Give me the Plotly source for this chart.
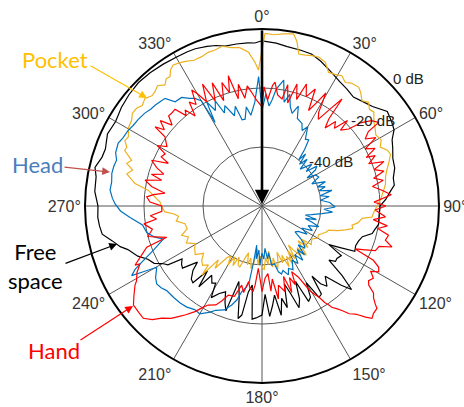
import plotly.graph_objects as go

W, H = 464, 407

# ---- data: (angle in degrees, level in dB) ----
free_space = [(0,-4.0),(5,-4.6),(9,-5.3),(14,-5.6),(18,-5.8),(22,-7.0),(27,-8.8),(32,-10.3),(36,-11.0),(40,-11.8),
 (44,-10.8),(48,-9.6),(53,-6.8),(57,-7.6),(60,-8.3),(63,-10.5),(66,-11.5),(70,-12.8),(74,-13.2),(78,-14.5),
 (81,-14.6),(84,-16.5),(87,-18.0),(90,-20.0),(95,-20.2),(99,-20.0),(102,-21.0),(104,-21.5),(107,-24.4),(110,-25.2),
 (113,-25.5),(116,-25.0),(118,-30.0),(120,-33.8),(122,-28.3),(125,-29.0),(127,-28.8),(129,-30.8),(131,-24.0),(133,-18.5),
 (135,-22.0),(138,-28.0),(141,-25.0),(143,-27.0),(144.5,-30.8),(146,-24.0),(148,-23.5),(150,-30.0),(152,-25.0),(154,-24.0),
 (156,-32.0),(158,-26.0),(160,-23.3),(162,-29.0),(164,-32.5),(166,-24.5),(168,-28.0),(170,-22.4),(172,-29.5),(174,-26.0),
 (176,-22.5),(178,-30.0),(180,-23.0),(183,-22.0),(185,-21.5),(187,-33.0),(189,-30.5),(190.5,-22.4),(192,-21.0),(194,-28.0),
 (197,-33.2),(199,-22.4),(201,-25.0),(203,-28.4),(206,-27.0),(209,-24.5),(211,-29.5),(213,-28.8),(216,-31.0),(218,-25.2),
 (220,-31.2),(222,-25.0),(224,-25.5),(227,-28.0),(229,-31.0),(232,-25.8),(234,-26.3),(236.5,-27.5),(238,-22.4),(240,-21.0),
 (242,-18.6),(245,-17.3),(248,-14.6),(252,-12.2),(254,-10.0),(257,-7.8),(260,-5.0),(263,-4.5),(266,-4.2),(270,-4.4),
 (275,-3.1),(280,-2.9),(283,-1.9),(287,-3.3),(290,-3.5),(295,-2.2),(300,-2.7),(305,-1.8),(310,-1.2),(315,-0.8),
 (320,-1.0),(325,-1.4),(330,-1.8),(334,-1.9),(337,-2.1),(341,-2.8),(344,-3.4),(347,-4.4),(351,-4.4),(355,-4.5),
 (357.5,-4.7),(360,-4.0)]

pocket = [(1,-1.5),(4,-1.8),(7,-1.2),(10.4,-0.7),(12,-3.0),(13.6,-7.0),(16,-6.8),(18.4,-6.3),(21,-6.0),(23.8,-6.8),
 (26.5,-9.4),(29,-9.0),(31.5,-8.2),(34,-9.5),(36,-8.5),(39.2,-8.1),(41,-9.0),(43.5,-10.8),(45.8,-9.6),(48,-11.0),
 (50,-10.5),(53,-12.5),(55.8,-13.6),(58,-14.5),(61,-13.8),(63.5,-15.2),(66,-13.5),(68,-13.0),(71,-14.5),(74,-16.0),
 (76.8,-17.0),(80,-17.5),(82.6,-18.4),(86,-19.5),(90,-21.0),(93,-22.0),(95.7,-22.5),(97,-25.8),(100,-27.0),(102,-28.8),
 (104,-28.3),(106,-30.6),(108,-33.0),(110,-36.0),(112,-36.5),(114.8,-37.6),(117,-38.5),(120,-38.2),(123.4,-39.7),(126,-39.3),
 (128,-38.8),(130,-42.5),(132,-39.0),(134,-43.0),(136,-40.5),(138,-37.5),(140,-41.5),(142,-38.5),(144,-41.0),(146,-44.0),
 (148,-39.0),(150,-42.5),(152,-38.0),(154,-41.0),(156,-37.5),(158,-42.0),(160,-39.5),(162,-43.5),(164,-40.3),(166,-38.0),
 (168,-42.0),(170,-39.0),(172,-44.5),(174,-40.0),(176,-42.5),(178,-38.5),(180,-39.0),(182,-43.0),(184,-40.0),(186,-45.5),
 (188,-41.0),(190,-38.5),(192,-42.0),(194,-39.5),(196,-43.5),(198,-41.5),(200,-38.0),(202,-38.4),(204,-41.0),(206,-37.5),
 (208,-40.5),(210,-37.0),(212,-40.0),(214,-39.0),(217,-33.6),(219,-36.5),(221,-29.0),(222.3,-33.0),(225,-31.5),(228,-32.5),
 (231,-34.5),(234,-32.0),(237.7,-33.0),(240.6,-34.0),(244,-31.5),(247.2,-32.9),(250,-31.0),(253,-33.5),(257,-33.2),(260,-30.5),
 (263,-31.5),(265,-29.8),(266.5,-27.0),(269.6,-26.0),(272,-25.5),(274.8,-23.6),(277.9,-21.0),(280,-16.3),(283.4,-12.9),(285.5,-14.5),
 (287.5,-11.9),(289.3,-13.2),(292,-9.8),(293.6,-10.0),(295.5,-8.5),(297.4,-9.0),(300.5,-7.5),(303.4,-7.1),(305.5,-6.0),(307.9,-6.1),
 (310,-7.0),(312.6,-6.1),(315,-7.2),(316.9,-6.9),(319,-6.0),(321.3,-7.4),(323,-6.0),(324.6,-6.2),(326,-4.5),(327.8,-3.5),
 (330,-4.0),(332,-4.5),(335,-5.5),(338,-5.4),(340.7,-4.8),(343,-4.8),(346,-4.2),(349,-5.3),(352,-5.8),(355,-7.7),
 (357.2,-11.2),(358.5,-13.9),(361,-1.5)]

head = [(0,-27.5),(2,-22),(4,-26),(5.4,-23.9),(7,-20),(9.8,-16.7),(12,-24),(14,-21),(15.9,-25),(18,-27),
 (20,-24),(22,-28),(25.8,-28.9),(28,-31),(30,-29),(33,-33),(35.3,-32.6),(37,-36),(38.6,-40),(40,-37),
 (42,-41),(44,-38),(46,-42),(48,-40.2),(50,-38),(52,-41),(54,-37),(56,-38.2),(58,-42),(60,-39),
 (63,-38.4),(66,-41.5),(69,-37),(71,-40),(73,-37.6),(75,-40),(77.4,-35.7),(80,-40),(82,-37),(84.4,-40.1),
 (87,-37),(90.8,-35.2),(93,-39),(95,-36),(97.3,-39.5),(100,-43),(101.8,-45),(104,-41),(106,-44.7),(108,-42),
 (110,-39.5),(113,-43),(116,-41),(119,-44.6),(122,-42),(125,-45),(128,-45.8),(130,-43),(132,-41),(134.5,-39.6),
 (137,-42),(139,-38),(141,-41),(143,-37),(146,-40),(148,-37),(151,-39),(154,-36),(157,-37),(159,-35),
 (162,-37),(164,-36),(166,-37),(168,-40),(170.7,-39.7),(172,-44),(174,-42),(176,-45.6),(178,-42),(180,-44),
 (182,-40),(184,-45),(186,-42),(187.7,-46.6),(188.5,-41),(189.5,-34),(191,-32),(193.3,-30.2),(195,-27),(197,-24.9),
 (200,-22.5),(204,-21.3),(206,-20),(210,-17.8),(213,-18.1),(216.6,-17.3),(220,-17),(224,-16.9),(228.4,-16.8),(231,-16),
 (233.5,-15.6),(236,-16.5),(239.8,-18.7),(241,-14),(241.9,-9.9),(243.5,-12),(245.3,-15.7),(248,-20.5),(251.4,-24.7),(254,-22),
 (257,-19.9),(261,-19),(265,-15.1),(268,-12),(270.8,-10.2),(273,-9.2),(276,-8.2),(279,-8.4),(282.3,-7.9),(285,-8.0),
 (287.6,-8.3),(290,-7.2),(293.6,-6.8),(296,-7.5),(299.6,-7.9),(302,-8.5),(305,-8.8),(308.4,-9.3),(311,-10),(313.3,-10.2),
 (316,-10.6),(318,-10.9),(320.2,-14),(323.5,-14.2),(326,-16),(328,-17),(330,-18.8),(330.7,-27.5),(332,-20),(334,-24),
 (336,-21),(338,-26),(339.7,-23.7),(343,-28),(345,-25),(347,-30),(349,-30),(351,-26),(353,-29),(356,-24.8),
 (358.5,-16.1),(360,-27.5)]

hand = [(0,-26.4),(1,-19.6),(3,-24),(5,-19),(6,-17.8),(8,-22),(10.6,-23.1),(12,-18),(14,-24),(16,-17),
 (18,-22),(20,-16),(22,-20),(24.5,-16.4),(26,-24),(28,-20),(29.5,-16),(31.2,-22.9),(33,-25),(35,-20),
 (36.8,-14.7),(37.5,-22.8),(39,-26),(41,-22),(43,-24),(45,-19),(46,-23),(48.4,-20.7),(50,-16),(52,-13),
 (54.4,-11.3),(55,-16),(57,-18.3),(59,-15),(61,-20),(63,-17),(65,-21),(66,-18),(68.4,-21.1),(70,-16),
 (72,-20),(74,-17),(76,-21),(78,-18),(80,-22),(82.5,-19),(85,-16),(88,-22),(90,-18),(92,-21.6),
 (95,-18),(97,-22),(99,-17),(101,-20),(103,-16),(105.5,-16.6),(107.5,-13.8),(109,-18),(111.5,-18.7),(113,-22),
 (114.7,-25.2),(116,-18),(117.7,-15.3),(119.4,-14.6),(121,-17),(123,-15),(125,-15.9),(126.5,-15),(128,-12),(129.5,-11),
 (130.9,-9.2),(131.7,-7.8),(134,-7.5),(135.6,-6.7),(137,-8.5),(138.4,-10.6),(139.2,-11.6),(141,-13),(142.6,-15.4),(144,-17),
 (145.4,-18.3),(146,-19.5),(147,-21),(148,-23.6),(149,-24.8),(150.5,-27),(151.4,-29.5),(153,-33),(155.7,-35.6),(157,-31),
 (159,-34),(161,-29),(163,-35),(165,-30),(168.3,-32.6),(170,-28),(172,-35),(174,-31),(175,-37),(177.6,-35.5),
 (180,-31),(181,-34),(183.4,-38.8),(185,-33),(186,-31),(188.3,-31.8),(190,-34),(192,-30),(194.4,-32.3),(197,-28),
 (200.7,-27.7),(203,-25),(205,-23),(208.5,-21.8),(210,-20.5),(212.4,-17.6),(215,-15),(217.1,-13),(219,-11),(221.8,-9),
 (224,-6.5),(226.6,-4.6),(229,-4.8),(232.4,-5),(235,-7),(238.1,-9.3),(239.2,-10.5),(242,-12),(244.6,-14.2),(245,-12.5),
 (247,-15),(250.3,-18.5),(251.8,-26),(253,-24),(255,-20),(258,-22),(261.4,-19.5),(263,-24),(265,-22),(267,-26),
 (270,-26),(272,-22),(274.5,-20.8),(276,-23),(277.5,-26.8),(280,-22),(282.5,-19.4),(284.4,-24.9),(286,-21),(288,-25),
 (290,-22),(292.5,-19.5),(294.5,-25.1),(296,-22),(298.3,-22.7),(300,-19),(302,-22),(305.5,-19.6),(306.5,-14.9),(308,-18),
 (310,-15),(312,-19),(314,-16),(315.7,-16.1),(318,-15.9),(320,-20),(321.3,-18.3),(323.4,-22),(325,-17),(327,-19),
 (328.8,-14),(330,-16),(332,-20),(334,-14),(336,-21),(338,-15),(340,-22),(342,-16),(344,-20),(345.5,-14.4),
 (347.5,-22.8),(349,-18),(351,-23),(353,-19),(354.8,-21.3),(357,-24),(360,-26.4)]

angle_ticks = [0, 30, 60, 90, 120, 150, 180, 210, 240, 270, 300, 330]
angle_labels = [f"{a}°" for a in angle_ticks]
db_ticks = [-40, -20, 0]
db_labels = ["-40 dB", "-20 dB", "0 dB"]

series = [
    ("Free space", free_space, "#000000"),
    ("Pocket", pocket, "#EDB120"),
    ("Head", head, "#0072BD"),
    ("Hand", hand, "#FF0000"),
]

fig = go.Figure()
for name, pts, col in series:
    fig.add_trace(go.Scatterpolar(
        theta=[p[0] for p in pts], r=[p[1] for p in pts], mode="lines", name=name,
        line=dict(color=col, width=1.2), showlegend=False, hoverinfo="skip"))

def px(x, y):
    return x / W, 1 - y / H

TICKFONT = "Liberation Sans, Arial, sans-serif"
CALLFONT = "Lato, Carlito, Calibri, sans-serif"

annotations = []
# dB labels
for (x, y), t in zip([(331, 161), (373, 120), (408, 78)], db_labels):
    X, Y = px(x, y)
    annotations.append(dict(x=X, y=Y, xref="paper", yref="paper", text=t, showarrow=False,
                            xanchor="center", yanchor="middle",
                            font=dict(family=TICKFONT, size=15, color="#222")))

# thick arrow from 0 dB at 0 deg to centre
cx, cy = px(262, 204)
annotations.append(dict(x=cx, y=cy, xref="paper", yref="paper", text="", showarrow=True,
                        ax=0, ay=-175, arrowhead=2, arrowsize=1.1, arrowwidth=2.6, arrowcolor="black"))

# callouts: (text, text centre, arrow tail, arrow head, text colour, arrow colour)
callouts = [
    ("Pocket", (55, 59), (89, 65), (147, 98), "#FFC000", "#FFC000"),
    ("Head", (37, 164), (63, 167), (110, 172), "#4A7EBB", "#C0504D"),
    ("Free<br>space", (35, 266), (64, 264), (117, 244), "#000000", "#000000"),
    ("Hand", (54, 350), (79, 341), (133, 306), "#FF0000", "#FF0000"),
]
for text, (tx, ty), (ax0, ay0), (hx, hy), tcol, acol in callouts:
    X, Y = px(tx, ty)
    annotations.append(dict(x=X, y=Y, xref="paper", yref="paper", text=text, showarrow=False,
                            xanchor="center", yanchor="middle",
                            font=dict(family=CALLFONT, size=22, color=tcol), align="center"))
    HX, HY = px(hx, hy)
    annotations.append(dict(x=HX, y=HY, xref="paper", yref="paper", text="", showarrow=True,
                            ax=ax0 - hx, ay=ay0 - hy, arrowhead=2, arrowsize=1.3, arrowwidth=1.2,
                            arrowcolor=acol))

fig.update_layout(
    width=W, height=H, margin=dict(l=0, r=0, t=0, b=0),
    paper_bgcolor="white", plot_bgcolor="white",
    polar=dict(
        domain=dict(x=[85 / W, 439 / W], y=[1 - 383 / H, 1 - 29 / H]),
        bgcolor="white",
        angularaxis=dict(rotation=90, direction="clockwise", tickmode="array",
                         tickvals=angle_ticks, ticktext=angle_labels,
                         showline=True, linecolor="black", linewidth=2,
                         showgrid=True, gridcolor="#555", gridwidth=1, ticks="",
                         tickfont=dict(family=TICKFONT, size=16, color="#333")),
        radialaxis=dict(range=[-60, 0], tickmode="array", tickvals=db_ticks,
                        showticklabels=False, showline=False, ticks="",
                        showgrid=True, gridcolor="#555", gridwidth=1),
    ),
    annotations=annotations,
    showlegend=False,
)

fig.write_html("out.html", config={"displayModeBar": False},
               post_script="document.body.style.margin='0px';")
